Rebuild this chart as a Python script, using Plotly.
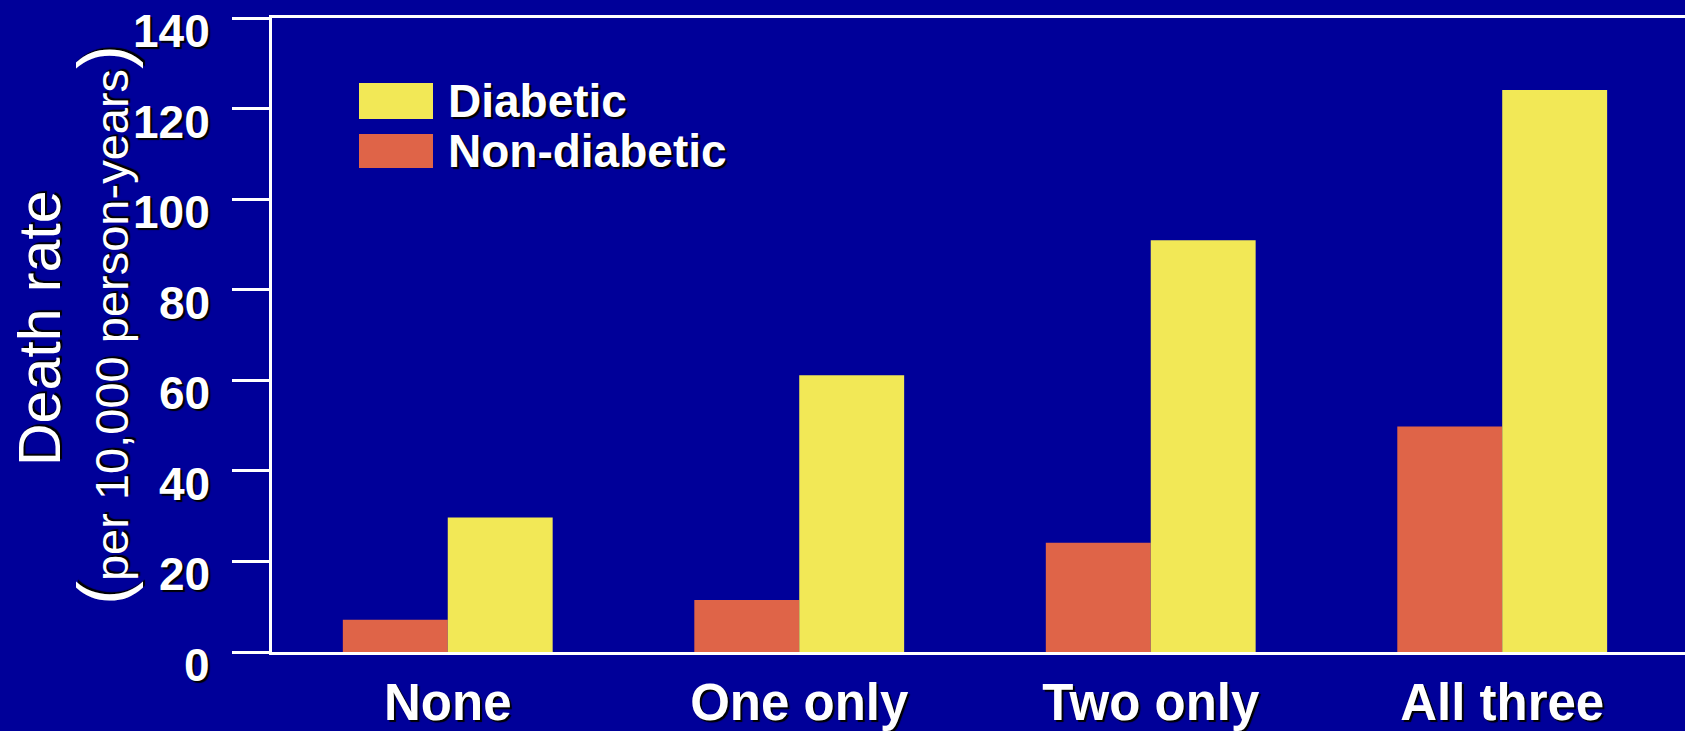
import plotly.graph_objects as go

# Death rate by number of risk factors, diabetic vs non-diabetic
categories = ["None", "One only", "Two only", "All three"]
diabetic = [29.7, 61.1, 90.9, 124.1]
non_diabetic = [7.1, 11.5, 24.1, 49.8]
y_ticks = [0, 20, 40, 60, 80, 100, 120, 140]
series_names = ["Diabetic", "Non-diabetic"]

BG = "#000099"
YELLOW = "#F2E856"
RED = "#DF6448"
WHITE = "#FFFFFF"
FONT = "Liberation Sans, Arial, sans-serif"
SHADOW = "2px 2px 1px #000000"

W, H = 1685, 731
L, R, T, B = 272, 0, 18, 79
PW, PH = W - L - R, H - T - B


def px_x(px):
    return (px - L) / PW


def px_y(py):
    return (H - B - py) / PH


fig = go.Figure()
fig.add_trace(go.Bar(x=categories, y=non_diabetic, name=series_names[1],
                     marker=dict(color=RED, line=dict(width=0))))
fig.add_trace(go.Bar(x=categories, y=diabetic, name=series_names[0],
                     marker=dict(color=YELLOW, line=dict(width=0))))

fig.update_layout(
    width=W, height=H,
    margin=dict(l=L, r=R, t=T, b=B, pad=0, autoexpand=False),
    paper_bgcolor=BG, plot_bgcolor=BG,
    barmode="group", bargap=0.403, bargroupgap=0,
    showlegend=False,
    font=dict(family=FONT, color=WHITE),
)

fig.update_xaxes(
    type="category", range=[-0.5, 3.52], automargin=False,
    showline=True, linecolor=WHITE, linewidth=3, mirror=True,
    ticks="", showgrid=False, zeroline=False,
    tickfont=dict(family=FONT, size=51, color=WHITE, weight="bold", shadow=SHADOW),
    ticklabelstandoff=4,
)
fig.update_yaxes(
    range=[0, 140], tickvals=y_ticks, showticklabels=False, automargin=False,
    showline=True, linecolor=WHITE, linewidth=3, mirror=False,
    ticks="outside", ticklen=37, tickwidth=3, tickcolor=WHITE,
    showgrid=False, zeroline=False,
)

annotations = []
# y tick labels, set slightly below their tick marks
for v in y_ticks:
    annotations.append(dict(
        x=0, xref="paper", y=v, yref="y", text=str(v), showarrow=False,
        xanchor="right", yanchor="middle", xshift=-60, yshift=-13,
        font=dict(family=FONT, size=46, color=WHITE, weight="bold", shadow=SHADOW),
    ))

# y axis titles
annotations.append(dict(
    x=px_x(40), xref="paper", y=px_y(328), yref="paper", text="Death rate",
    showarrow=False, textangle=-90, xanchor="center", yanchor="middle",
    font=dict(family=FONT, size=59, color=WHITE, shadow=SHADOW),
))
annotations.append(dict(
    x=px_x(103), xref="paper", y=px_y(325), yref="paper",
    text='<span style="font-size:72px">(</span>per 10,000 person-years'
         '<span style="font-size:72px">)</span>',
    showarrow=False, textangle=-90, xanchor="center", yanchor="middle",
    font=dict(family=FONT, size=47, color=WHITE, shadow=SHADOW),
))

# legend swatches and labels
shapes = []
legend_rows = [(series_names[0], YELLOW, 83, 119), (series_names[1], RED, 134, 168)]
for name, color, top, bottom in legend_rows:
    shapes.append(dict(
        type="rect", xref="paper", yref="paper",
        x0=px_x(359), x1=px_x(433), y0=px_y(bottom), y1=px_y(top),
        fillcolor=color, line=dict(width=0), layer="above",
    ))
    annotations.append(dict(
        x=px_x(446), xref="paper", y=px_y((top + bottom) / 2), yref="paper",
        text=name, showarrow=False, xanchor="left", yanchor="middle",
        font=dict(family=FONT, size=46, color=WHITE, weight="bold", shadow=SHADOW),
    ))

fig.update_layout(annotations=annotations, shapes=shapes)

fig.write_html("out.html")
